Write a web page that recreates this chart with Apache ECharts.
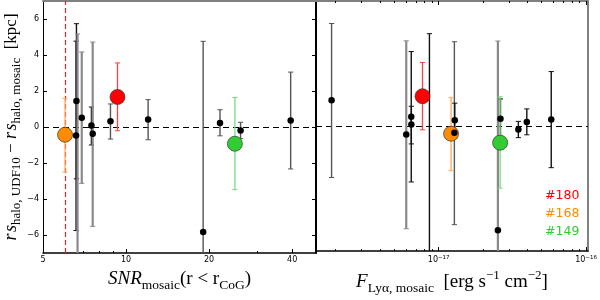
<!DOCTYPE html>
<html><head><meta charset="utf-8">
<script src="https://cdn.jsdelivr.net/npm/echarts@6/dist/echarts.min.js"></script>
<style>html,body{margin:0;padding:0;background:#fff}#c{width:600px;height:300px}</style>
</head><body><div id="c"></div>
<script>
// ---- data ----
const snr   = [6.61, 6.59, 6.67, 6.91, 7.49, 7.57, 8.78, 12.02, 19.03, 21.9, 26.0, 39.5];
const flux  = [1.875e-18, 6.02e-18, 8.65e-18, 6.51e-18, 6.52e-18, 1.277e-17, 1.285e-17, 2.624e-17, 2.52e-17, 3.96e-17, 3.47e-17, 5.80e-17];
const dRs   = [1.44, -0.47, -9.0, 0.52, 0.09, -0.37, 0.32, 0.41, -5.83, 0.22, -0.20, 0.36];
const errLo = [4.32, 5.28, 5.0, 3.65, 1.09, 5.15, 0.99, 1.12, 3.5, 0.71, 0.45, 2.69];
const errHi = [4.30, 5.24, 14.17, 3.65, 1.02, 5.09, 0.96, 1.11, 10.59, 0.74, 0.46, 2.69];

const hlIds  = ['#180', '#168', '#149'];
const hlSnr  = [9.31, 6.01, 24.8];
const hlFlux = [7.76e-18, 1.213e-17, 2.61e-17];
const hlRs   = [1.67, -0.43, -0.93];
const hlLo   = [1.88, 2.07, 2.55];
const hlHi   = [1.89, 2.02, 2.57];

const snrCut    = 6.0;
const yTicks    = [-6, -4, -2, 0, 2, 4, 6];
const snrTicks  = [5, 10, 20, 40];
const snrMinor  = [6, 7, 8, 9, 30];
const fluxTicks = [1e-17, 1e-16];
const fluxMinor = [2e-18, 3e-18, 4e-18, 5e-18, 6e-18, 7e-18, 8e-18, 9e-18, 2e-17, 3e-17, 4e-17, 5e-17, 6e-17, 7e-17, 8e-17, 9e-17];
const snrRange  = [5, 48.8];
const fluxRange = [1.47e-18, 1.03e-16];
const yRange    = [-7, 7];

// ---- styles (kept separate from data) ----
const toneL = ['k','k','g','g','k','g','m','m','m','m','m','m'];
const toneR = ['m','g','k','k','k','m','k','k','g','k','k','k'];
const tones = { k: {c:'#111', w:1.4}, m: {c:'#555', w:1.4}, g: {c:'#8a8a8a', w:2.2} };
const hlColor = ['#ff0000', '#ff8c00', '#32cd32'];
const hlBar   = ['#ff4040', '#ffab55', '#77dd77'];

const L = Math.log10;

function errRender(styleFn) {
  return function (params, api) {
    const x = api.value(0), lo = api.value(2), hi = api.value(3);
    const st = styleFn(params.dataIndex);
    const p1 = api.coord([x, lo]), p2 = api.coord([x, hi]);
    const cw = 2.6;
    const s = {stroke: st.c, lineWidth: st.w};
    const s2 = {stroke: st.c, lineWidth: 1};
    return {type:'group', children:[
      {type:'line', shape:{x1:p1[0], y1:p1[1], x2:p2[0], y2:p2[1]}, style:s},
      {type:'line', shape:{x1:p1[0]-cw, y1:p1[1], x2:p1[0]+cw, y2:p1[1]}, style:s2},
      {type:'line', shape:{x1:p2[0]-cw, y1:p2[1], x2:p2[0]+cw, y2:p2[1]}, style:s2}
    ]};
  };
}

const serif = 'Liberation Serif';
const richName = {
  i: {fontFamily: serif, fontStyle:'italic', fontSize:19, lineHeight:26, color:'#000'},
  n: {fontFamily: serif, fontSize:19, lineHeight:26, color:'#000'},
  s: {fontFamily: serif, fontSize:13.5, lineHeight:12, verticalAlign:'bottom', color:'#000'},
  p: {fontFamily: serif, fontSize:13, lineHeight:12, verticalAlign:'top', color:'#000'}
};
const richY = {
  i: {fontFamily: serif, fontStyle:'italic', fontSize:18, lineHeight:24, color:'#000'},
  n: {fontFamily: serif, fontSize:17, lineHeight:24, color:'#000'},
  s: {fontFamily: serif, fontSize:13, lineHeight:12, verticalAlign:'bottom', color:'#000'}
};

const tickLbl = {fontSize:8, fontFamily:'DejaVu Sans', color:'#000'};
const fmtY = v => (v < 0 ? '\u2212' + (-v) : String(v));

const snrMin = L(snrRange[0]), snrMax = L(snrRange[1]);
const fMin = L(fluxRange[0]), fMax = L(fluxRange[1]);

const xAxis = [
  // 0: left panel bottom (major)
  {gridIndex:0, type:'value', position:'bottom', min:snrMin, max:snrMax,
   axisLine:{onZero:false, lineStyle:{color:'#000', width:1.5}},
   axisTick:{inside:true, length:4, customValues:snrTicks.map(L), lineStyle:{color:'#000'}},
   axisLabel:Object.assign({customValues:snrTicks.map(L), margin:3, formatter: v => String(Math.round(Math.pow(10, v)))}, tickLbl),
   splitLine:{show:false},
   name:'{i|SNR}{s|mosaic}{n|(r < r}{s|CoG}{n|)}', nameLocation:'middle', nameGap:13,
   nameTextStyle:{rich:richName}},
  // 1: left panel top
  {gridIndex:0, type:'value', position:'top', min:snrMin, max:snrMax,
   axisLine:{onZero:false, lineStyle:{color:'#808080', width:2}},
   axisTick:{show:false}, axisLabel:{show:false}, splitLine:{show:false}},
  // 2: left panel bottom minor
  {gridIndex:0, type:'value', position:'bottom', min:snrMin, max:snrMax,
   axisLine:{show:false, onZero:false},
   axisTick:{inside:true, length:2, customValues:snrMinor.map(L), lineStyle:{color:'#000'}},
   axisLabel:{show:false}, splitLine:{show:false}},
  // 3: right panel bottom (major)
  {gridIndex:1, type:'value', position:'bottom', min:fMin, max:fMax,
   axisLine:{onZero:false, lineStyle:{color:'#000', width:1.5}},
   axisTick:{inside:true, length:4, customValues:fluxTicks.map(L), lineStyle:{color:'#000'}},
   axisLabel:{customValues:fluxTicks.map(L), margin:3,
     formatter: v => '{a|10}{b|\u2212' + Math.abs(Math.round(v)) + '}',
     rich:{a:{fontSize:8, fontFamily:'DejaVu Sans', color:'#000', lineHeight:12},
           b:{fontSize:5.5, fontFamily:'DejaVu Sans', color:'#000', lineHeight:7, verticalAlign:'top'}}},
   splitLine:{show:false},
   name:'{i|F}{s|Ly\u03b1, mosaic}{n|  [erg s}{p|\u22121}{n| cm}{p|\u22122}{n|]}', nameLocation:'middle', nameGap:13,
   nameTextStyle:{rich:richName}},
  // 4: right panel top (major)
  {gridIndex:1, type:'value', position:'top', min:fMin, max:fMax,
   axisLine:{onZero:false, lineStyle:{color:'#808080', width:2}},
   axisTick:{inside:true, length:4, customValues:fluxTicks.map(L), lineStyle:{color:'#000'}},
   axisLabel:{show:false}, splitLine:{show:false}},
  // 5: right panel bottom minor
  {gridIndex:1, type:'value', position:'bottom', min:fMin, max:fMax,
   axisLine:{show:false, onZero:false},
   axisTick:{inside:true, length:2, customValues:fluxMinor.map(L), lineStyle:{color:'#000'}},
   axisLabel:{show:false}, splitLine:{show:false}},
  // 6: right panel top minor
  {gridIndex:1, type:'value', position:'top', min:fMin, max:fMax,
   axisLine:{show:false, onZero:false},
   axisTick:{inside:true, length:2, customValues:fluxMinor.map(L), lineStyle:{color:'#000'}},
   axisLabel:{show:false}, splitLine:{show:false}}
];

const yAxis = [
  {gridIndex:0, type:'value', position:'left', min:yRange[0], max:yRange[1],
   axisLine:{onZero:false, lineStyle:{color:'#000', width:1}},
   axisTick:{inside:true, length:4, customValues:yTicks, lineStyle:{color:'#000'}},
   axisLabel:Object.assign({customValues:yTicks, margin:4, formatter:fmtY}, tickLbl),
   splitLine:{show:false},
   name:'{i|r\u200as}{s|halo, UDF10}{n| \u2212 }{i|r\u200as}{s|halo, mosaic}{n|  [kpc]}',
   nameLocation:'middle', nameRotate:90, nameGap:11, nameTextStyle:{rich:richY}},
  {gridIndex:0, type:'value', position:'right', min:yRange[0], max:yRange[1],
   axisLine:{onZero:false, lineStyle:{color:'#000', width:2}},
   axisTick:{inside:true, length:4, customValues:yTicks, lineStyle:{color:'#000'}},
   axisLabel:{show:false}, splitLine:{show:false}},
  {gridIndex:1, type:'value', position:'left', min:yRange[0], max:yRange[1],
   axisLine:{onZero:false, lineStyle:{color:'#000', width:2}},
   axisTick:{show:false}, axisLabel:{show:false}, splitLine:{show:false}},
  {gridIndex:1, type:'value', position:'right', min:yRange[0], max:yRange[1],
   axisLine:{onZero:false, lineStyle:{color:'#808080', width:2}},
   axisTick:{show:false}, axisLabel:{show:false}, splitLine:{show:false}}
];

function panelSeries(xs, xi, yi, tone, cutLine) {
  const errData = xs.map((x, i) => [L(x), dRs[i], dRs[i] - errLo[i], dRs[i] + errHi[i]]);
  const ptData  = xs.map((x, i) => [L(x), dRs[i]]);
  const hx = xi === 0 ? hlSnr : hlFlux;
  const hlErr = hx.map((x, i) => [L(x), hlRs[i], hlRs[i] - hlLo[i], hlRs[i] + hlHi[i]]);
  const hlPts = hx.map((x, i) => ({value:[L(x), hlRs[i]], itemStyle:{color:hlColor[i]}}));
  const mlData = [{yAxis:0, lineStyle:{color:'#000', type:[6,4], width:1.2}}];
  if (cutLine) mlData.push({xAxis:L(snrCut), lineStyle:{color:'#e8202a', type:[5,3], width:1.2}});
  return [
    {type:'custom', xAxisIndex:xi, yAxisIndex:yi, clip:true, z:2, silent:true,
     renderItem: errRender(i => tones[tone[i]]), data: errData,
     markLine:{silent:true, symbol:['none','none'], label:{show:false}, animation:false, data: mlData, z:1}},
    {type:'custom', xAxisIndex:xi, yAxisIndex:yi, clip:true, z:3, silent:true,
     renderItem: errRender(i => ({c:hlBar[i], w:1.3})), data: hlErr},
    {type:'scatter', xAxisIndex:xi, yAxisIndex:yi, z:4, symbolSize:15, silent:true,
     itemStyle:{borderColor:'#333', borderWidth:0.7, opacity:1}, data: hlPts},
    {type:'scatter', xAxisIndex:xi, yAxisIndex:yi, z:5, symbolSize:6.5, silent:true,
     itemStyle:{color:'#000', opacity:1}, data: ptData}
  ];
}

const series = [].concat(
  panelSeries(snr, 0, 0, toneL, true),
  panelSeries(flux, 3, 2, toneR, false)
);

const labelText = hlIds.map((t, i) => ({
  type:'text', left:545, top:189 + i * 18,
  style:{text:t, fill:hlColor[i], font:'12.5px "DejaVu Sans"'}
}));

const chart = echarts.init(document.getElementById('c'), null, {renderer:'canvas'});
chart.setOption({
  animation:false,
  backgroundColor:'#fff',
  grid:[
    {left:43, top:1, width:273, height:252},
    {left:316, top:1, width:273, height:252}
  ],
  xAxis, yAxis, series,
  graphic: labelText
});
</script>
</body></html>
